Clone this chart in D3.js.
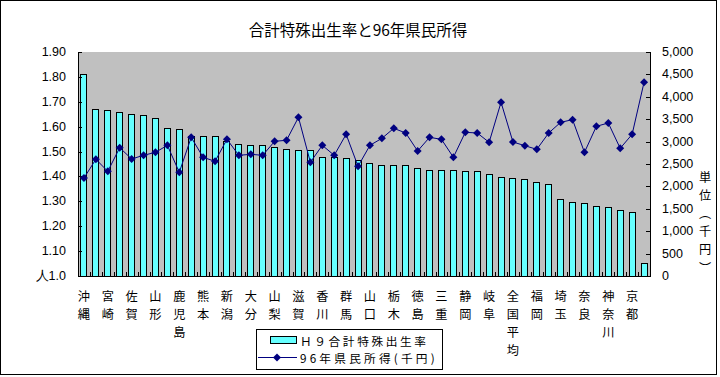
<!DOCTYPE html>
<html><head><meta charset="utf-8">
<script src="https://cdn.jsdelivr.net/npm/d3@7"></script>
<style>
html,body{margin:0;padding:0;background:#fff;}
svg{display:block;}
text{font-family:"Noto Sans CJK JP","Noto Sans",sans-serif;fill:#000;}
.num{font-family:"Liberation Sans",Arial,sans-serif;}
</style></head>
<body>
<svg id="c" width="720" height="377"></svg>
<script>
const categories = ["沖縄","福島","宮崎","島根","佐賀","鳥取","山形","福井","鹿児島","長野","熊本","長崎","新潟","岩手","大分","愛媛","山梨","石川","滋賀","青森","香川","秋田","群馬","高知","山口","岡山","栃木","茨城","徳島","広島","三重","和歌山","静岡","兵庫","岐阜","愛知","全国平均","富山","福岡","宮城","埼玉","大阪","奈良","千葉","神奈川","北海道","京都","東京"];
const fertility = [1.81,1.667,1.663,1.655,1.647,1.643,1.631,1.591,1.587,1.559,1.559,1.559,1.54,1.529,1.525,1.525,1.517,1.509,1.506,1.506,1.477,1.477,1.473,1.466,1.453,1.445,1.445,1.445,1.43,1.425,1.425,1.425,1.421,1.421,1.409,1.394,1.39,1.386,1.376,1.368,1.308,1.296,1.292,1.28,1.276,1.264,1.256,1.052];
const income = [2187,2605,2336,2864,2612,2694,2760,2917,2314,3095,2649,2560,3051,2694,2716,2694,3007,3029,3542,2538,2917,2694,3163,2449,2917,3073,3296,3192,2790,3095,3051,2649,3207,3192,2984,3877,2991,2909,2827,3192,3430,3490,2760,3341,3415,2850,3163,4323];
const leftTicks = [1.0,1.1,1.2,1.3,1.4,1.5,1.6,1.7,1.8,1.9];
const leftTickLabels = ["人1.0","1.10","1.20","1.30","1.40","1.50","1.60","1.70","1.80","1.90"];
const rightTicks = [0,500,1000,1500,2000,2500,3000,3500,4000,4500,5000];
const titleText = "合計特殊出生率と96年県民所得";
const rightTitle = ["単","位","︵","千","円","︶"];
const legendLabels = ["Ｈ９合計特殊出生率","96年県民所得(千円)"];

const svg = d3.select("#c");
const X0=78, X1=650, Y0=52, Y1=276;

svg.append("rect").attr("x",0.5).attr("y",0.5).attr("width",716).attr("height",374)
  .attr("fill","#fff").attr("stroke","#000").attr("stroke-width",1);

svg.append("text").attr("x",358).attr("y",29).attr("text-anchor","middle")
  .attr("dominant-baseline","central").style("font-size","15.5px").text(titleText);

const x = d3.scaleBand().domain(categories).range([X0,X1]).paddingInner(0.5).paddingOuter(0.25);
const yL = d3.scaleLinear().domain([1.0,1.9]).range([Y1,Y0]);
const yR = d3.scaleLinear().domain([0,5000]).range([Y1,Y0]);

svg.append("rect").attr("x",X0).attr("y",Y0).attr("width",X1-X0).attr("height",Y1-Y0).attr("fill","#C0C0C0");

// bars
svg.append("g").selectAll("rect").data(categories).join("rect")
  .attr("x",d=>x(d)).attr("width",x.bandwidth())
  .attr("y",(d,i)=>yL(fertility[i])).attr("height",(d,i)=>Y1-yL(fertility[i]))
  .attr("fill","#66FFFF").attr("stroke","#000").attr("stroke-width",1)
  .attr("shape-rendering","crispEdges");

// axes
const gL = svg.append("g").attr("transform",`translate(${X0},0)`)
  .call(d3.axisRight(yL).tickValues(leftTicks).tickSize(4).tickFormat(""));
const gR = svg.append("g").attr("transform",`translate(${X1},0)`)
  .call(d3.axisLeft(yR).tickValues(rightTicks).tickSize(4).tickFormat(""));
const step = x.step();
const bounds = d3.range(categories.length+1).map(i=>X0+i*step);
const gX = svg.append("g");
gX.append("line").attr("x1",X0).attr("x2",X1).attr("y1",Y1+0.5).attr("y2",Y1+0.5).attr("stroke","#000");
gX.selectAll("line.t").data(bounds).join("line").attr("class","t")
  .attr("x1",d=>Math.round(d)+0.5).attr("x2",d=>Math.round(d)+0.5).attr("y1",Y1).attr("y2",Y1-4).attr("stroke","#000");
[gL,gR].forEach(g=>{g.selectAll("path,line").attr("stroke","#000").attr("shape-rendering","crispEdges");});
gL.select(".domain").attr("d",`M0.5,${Y0}V${Y1+0.5}`);
gR.select(".domain").attr("d",`M0.5,${Y0}V${Y1+0.5}`);

// left labels
svg.append("g").selectAll("text").data(leftTicks).join("text").attr("class","num")
  .attr("x",66).attr("y",d=>yL(d)).attr("text-anchor","end").attr("dominant-baseline","central")
  .style("font-size","12.5px").text((d,i)=>leftTickLabels[i]);
// right labels
const fmt = d3.format(",");
svg.append("g").selectAll("text").data(rightTicks).join("text").attr("class","num")
  .attr("x",662).attr("y",d=>yR(d)).attr("dominant-baseline","central")
  .style("font-size","12.5px").text(d=>fmt(d));
// right title (single vertical text)
const rt = svg.append("text").attr("text-anchor","middle").style("font-size","12.2px");
rightTitle.forEach((ch,i)=>{
  rt.append("tspan").attr("x",705).attr("y",177+i*18.2+4.5).text(ch);
});

// category labels (every other), stacked vertically in one text each
const gC = svg.append("g");
categories.forEach((c,i)=>{
  if(i%2!==0) return;
  const cx = x(c)+x.bandwidth()/2;
  const t = gC.append("text").attr("text-anchor","middle").style("font-size","12.2px");
  Array.from(c).forEach((ch,j)=>{
    t.append("tspan").attr("x",cx).attr("y",296+j*18+4.5).text(ch);
  });
});

// line
const line = d3.line().x((d,i)=>x(categories[i])+x.bandwidth()/2).y(d=>yR(d));
svg.append("path").datum(income).attr("d",line).attr("fill","none").attr("stroke","#000080").attr("stroke-width",1);
const diamond = "M0,-4L4,0L0,4L-4,0Z";
svg.append("g").selectAll("path").data(income).join("path")
  .attr("transform",(d,i)=>`translate(${x(categories[i])+x.bandwidth()/2},${yR(d)})`)
  .attr("d",diamond).attr("fill","#000080");

// legend
const lg = svg.append("g");
lg.append("rect").attr("x",256.5).attr("y",329.5).attr("width",186).attr("height",40)
  .attr("fill","#fff").attr("stroke","#000");
lg.append("rect").attr("x",270.5).attr("y",336.5).attr("width",26).attr("height",7)
  .attr("fill","#66FFFF").attr("stroke","#000").attr("shape-rendering","crispEdges");
lg.append("text").attr("x",300).attr("y",340).attr("dominant-baseline","central")
  .style("font-size","11.7px").style("letter-spacing","2.6px").text(legendLabels[0]);
lg.append("line").attr("x1",258).attr("x2",297).attr("y1",357.5).attr("y2",357.5).attr("stroke","#000080").attr("stroke-width",1);
lg.append("path").attr("transform","translate(277,357.5)").attr("d",diamond).attr("fill","#000080");
lg.append("text").attr("x",300).attr("y",357.2).attr("dominant-baseline","central")
  .style("font-size","11.7px").style("letter-spacing","3.2px").text(legendLabels[1]);
</script>
</body></html>
